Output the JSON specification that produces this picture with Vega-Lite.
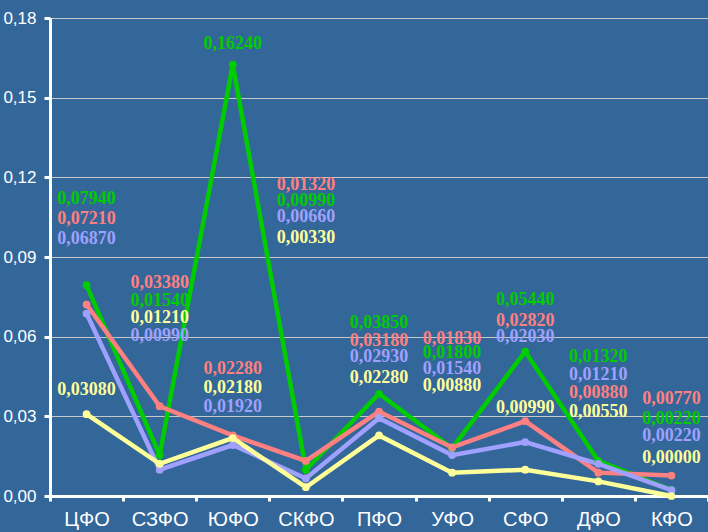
{
  "$schema": "https://vega.github.io/schema/vega-lite/v6.json",
  "width": 658,
  "height": 478,
  "autosize": "none",
  "padding": {"left": 50, "top": 18, "right": 0, "bottom": 36},
  "background": "#336699",
  "config": {
    "view": {"stroke": null},
    "locale": {"number": {"decimal": ",", "thousands": " ", "grouping": [3], "currency": ["", ""]}},
    "axis": {"domainColor": "white", "domainWidth": 3, "tickColor": "white", "tickWidth": 3, "labelColor": "white", "labelFont": "Liberation Sans", "title": null}
  },
  "data": {"values": [
    {"region": "ЦФО", "series": "Ряд1", "value": 0.0794, "label_y": 0.1118},
    {"region": "ЦФО", "series": "Ряд2", "value": 0.0721, "label_y": 0.1043},
    {"region": "ЦФО", "series": "Ряд3", "value": 0.0687, "label_y": 0.0968},
    {"region": "ЦФО", "series": "Ряд4", "value": 0.0308, "label_y": 0.0399},
    {"region": "СЗФО", "series": "Ряд1", "value": 0.0154, "label_y": 0.0734},
    {"region": "СЗФО", "series": "Ряд2", "value": 0.0338, "label_y": 0.0802},
    {"region": "СЗФО", "series": "Ряд3", "value": 0.0099, "label_y": 0.0603},
    {"region": "СЗФО", "series": "Ряд4", "value": 0.0121, "label_y": 0.0670},
    {"region": "ЮФО", "series": "Ряд1", "value": 0.1624, "label_y": 0.1702},
    {"region": "ЮФО", "series": "Ряд2", "value": 0.0228, "label_y": 0.0478},
    {"region": "ЮФО", "series": "Ряд3", "value": 0.0192, "label_y": 0.0335},
    {"region": "ЮФО", "series": "Ряд4", "value": 0.0218, "label_y": 0.0407},
    {"region": "СКФО", "series": "Ряд1", "value": 0.0099, "label_y": 0.1111},
    {"region": "СКФО", "series": "Ряд2", "value": 0.0132, "label_y": 0.1171},
    {"region": "СКФО", "series": "Ряд3", "value": 0.0066, "label_y": 0.1051},
    {"region": "СКФО", "series": "Ряд4", "value": 0.0033, "label_y": 0.0972},
    {"region": "ПФО", "series": "Ряд1", "value": 0.0385, "label_y": 0.0651},
    {"region": "ПФО", "series": "Ряд2", "value": 0.0318, "label_y": 0.0584},
    {"region": "ПФО", "series": "Ряд3", "value": 0.0293, "label_y": 0.0523},
    {"region": "ПФО", "series": "Ряд4", "value": 0.0228, "label_y": 0.0444},
    {"region": "УФО", "series": "Ряд1", "value": 0.0180, "label_y": 0.0538},
    {"region": "УФО", "series": "Ряд2", "value": 0.0183, "label_y": 0.0591},
    {"region": "УФО", "series": "Ряд3", "value": 0.0154, "label_y": 0.0478},
    {"region": "УФО", "series": "Ряд4", "value": 0.0088, "label_y": 0.0414},
    {"region": "СФО", "series": "Ряд1", "value": 0.0544, "label_y": 0.0738},
    {"region": "СФО", "series": "Ряд2", "value": 0.0282, "label_y": 0.0659},
    {"region": "СФО", "series": "Ряд3", "value": 0.0203, "label_y": 0.0599},
    {"region": "СФО", "series": "Ряд4", "value": 0.0099, "label_y": 0.0331},
    {"region": "ДФО", "series": "Ряд1", "value": 0.0132, "label_y": 0.0523},
    {"region": "ДФО", "series": "Ряд2", "value": 0.0088, "label_y": 0.0388},
    {"region": "ДФО", "series": "Ряд3", "value": 0.0121, "label_y": 0.0456},
    {"region": "ДФО", "series": "Ряд4", "value": 0.0055, "label_y": 0.0316},
    {"region": "КФО", "series": "Ряд1", "value": 0.0022, "label_y": 0.0290},
    {"region": "КФО", "series": "Ряд2", "value": 0.0077, "label_y": 0.0365},
    {"region": "КФО", "series": "Ряд3", "value": 0.0022, "label_y": 0.0226},
    {"region": "КФО", "series": "Ряд4", "value": 0.0000, "label_y": 0.0143}
  ]},
  "encoding": {
    "x": {
      "field": "region", "type": "nominal",
      "sort": ["ЦФО", "СЗФО", "ЮФО", "СКФО", "ПФО", "УФО", "СФО", "ДФО", "КФО"],
      "scale": {"paddingInner": 0, "paddingOuter": 0},
      "axis": {"labelAngle": 0, "labelFontSize": 20, "tickBand": "extent", "tickSize": 5, "labelPadding": 8, "grid": false}
    },
    "color": {
      "field": "series", "type": "nominal",
      "scale": {"domain": ["Ряд1", "Ряд2", "Ряд3", "Ряд4"], "range": ["#00cc00", "#ff8080", "#a0a0ff", "#ffff99"]},
      "legend": null
    }
  },
  "layer": [
    {
      "mark": {"type": "line", "strokeWidth": 4.5, "point": {"filled": true, "size": 60}},
      "encoding": {
        "y": {
          "field": "value", "type": "quantitative",
          "scale": {"domain": [0, 0.18], "nice": false, "zero": true},
          "axis": {"values": [0, 0.03, 0.06, 0.09, 0.12, 0.15, 0.18], "format": ".2f", "labelFontSize": 17, "tickSize": 6, "labelPadding": 8, "grid": true, "gridColor": "#c8c8c8", "gridWidth": 1}
        }
      }
    },
    {
      "mark": {"type": "text", "font": "Liberation Serif", "fontWeight": "bold", "fontSize": 18, "baseline": "middle", "align": "center"},
      "encoding": {
        "y": {"field": "label_y", "type": "quantitative"},
        "text": {"field": "value", "type": "quantitative", "format": ".5f"}
      }
    }
  ]
}
